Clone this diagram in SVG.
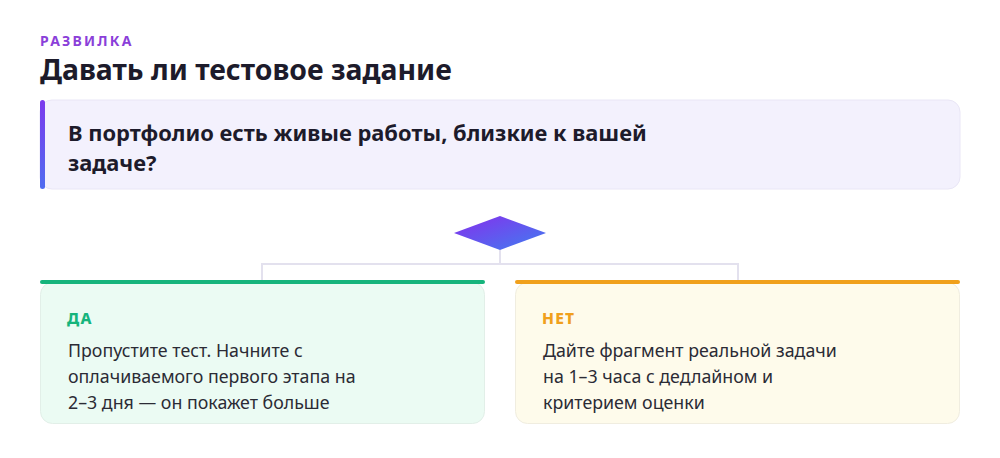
<svg xmlns="http://www.w3.org/2000/svg" width="1000" height="458" viewBox="0 0 1000 458">
<defs>
<linearGradient id="accent" x1="0" y1="0" x2="0" y2="1"><stop offset="0" stop-color="#7c3aed"/><stop offset="1" stop-color="#4f6cf0"/></linearGradient>
<linearGradient id="dia" x1="0" y1="0" x2="1" y2="1"><stop offset="0.15" stop-color="#7c3aed"/><stop offset="0.85" stop-color="#4a72f0"/></linearGradient>
<style>
text{font-family:"Noto Sans","Open Sans","DejaVu Sans",sans-serif}
.kicker{font-size:14px;font-weight:700;fill:#8b3fd9;letter-spacing:2.2px}
.title{font-size:28.4px;font-weight:700;fill:#1d1b2b}
.q{font-size:21.9px;font-weight:700;fill:#1d1b2b}
.lab{font-size:15.5px;font-weight:800;letter-spacing:1.2px}
.body{font-size:17.8px;fill:#2b2b35}
.conn{fill:none;stroke:#e3e1ee;stroke-width:2}
</style>
</defs>
<rect width="1000" height="458" fill="#ffffff"/>
<text class="kicker" x="40" y="46">РАЗВИЛКА</text>
<text class="title" x="40" y="80">Давать ли тестовое задание</text>
<g id="question">
<rect x="40" y="100" width="920" height="89" rx="12" fill="#f3f1fd" stroke="#e9e6f6"/>
<rect x="40" y="100" width="5" height="89" rx="2.5" fill="url(#accent)"/>
<text class="q" x="68" y="141">В портфолио есть живые работы, близкие к вашей</text>
<text class="q" x="68" y="171">задаче?</text>
</g>
<g id="decision">
<polygon points="500,216 546,233 500,250 454,233" fill="url(#dia)"/>
</g>
<g id="connectors">
<path class="conn" d="M500,250 V264 M262,282 V264 H738 V282"/>
</g>
<g id="yes">
<rect x="40.5" y="282.5" width="444" height="141" rx="12" fill="#ebfbf3" stroke="#e2efe8"/>
<rect x="40" y="280" width="445" height="4" rx="2" fill="#16b47c"/>
<text class="lab" x="67" y="324" fill="#16b47c">ДА</text>
<text class="body" x="68" y="357">Пропустите тест. Начните с</text>
<text class="body" x="68" y="383">оплачиваемого первого этапа на</text>
<text class="body" x="68" y="409">2–3 дня — он покажет больше</text>
</g>
<g id="no">
<rect x="515.5" y="282.5" width="444" height="141" rx="12" fill="#fefbeb" stroke="#f0ede0"/>
<rect x="515" y="280" width="445" height="4" rx="2" fill="#f0a01c"/>
<text class="lab" x="542" y="324" fill="#f0a01c">НЕТ</text>
<text class="body" x="543" y="357">Дайте фрагмент реальной задачи</text>
<text class="body" x="543" y="383">на 1–3 часа с дедлайном и</text>
<text class="body" x="543" y="409">критерием оценки</text>
</g>
</svg>
